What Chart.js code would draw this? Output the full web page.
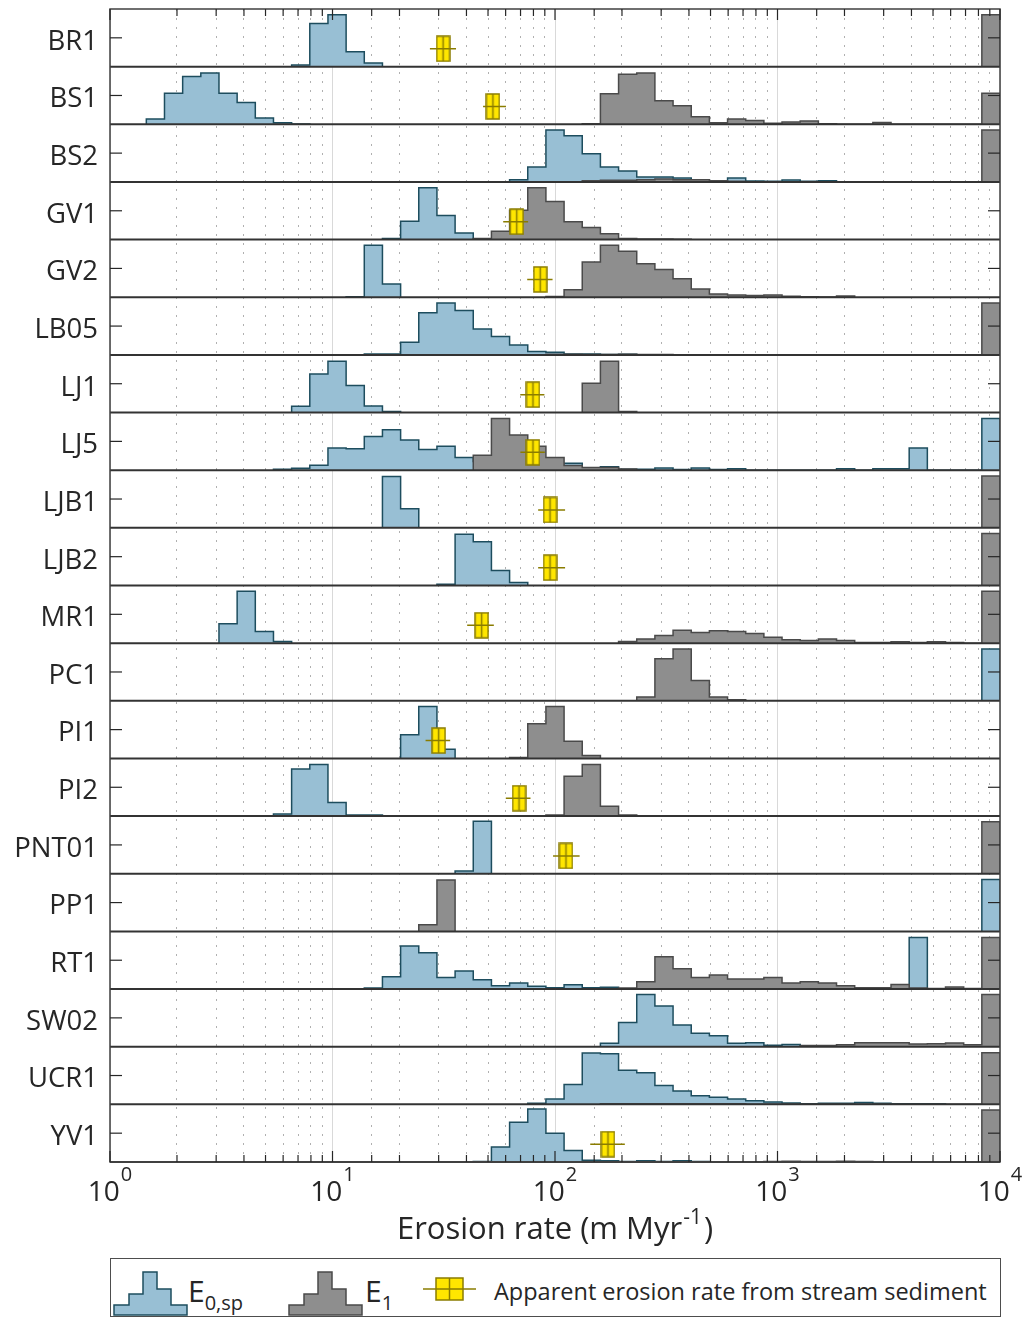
<!DOCTYPE html>
<html>
<head>
<meta charset="utf-8">
<script src="https://cdn.jsdelivr.net/npm/chart.js@4.4.1/dist/chart.umd.min.js"></script>
<style>
  html, body { margin: 0; padding: 0; background: #ffffff; }
  #wrap { position: relative; width: 1033px; height: 1318px; overflow: hidden; font-family: "Open Sans", sans-serif; color: #262626; }
  #chartBox { position: absolute; left: 0; top: 0; width: 1033px; height: 1250px; }
  #legend { position: absolute; left: 110px; top: 1258px; width: 891px; height: 59px; border: 1px solid #4d4d4d; box-sizing: border-box; background: #fff; }
  #legend svg { position: absolute; }
  .lt { position: absolute; white-space: nowrap; line-height: 1; }
  .lt sub { font-size: 20px; vertical-align: -8px; line-height: 1; }
</style>
</head>
<body>
<div id="wrap">
  <div id="chartBox"><canvas id="c"></canvas></div>
  <div id="legend">
    <svg style="left:2px;top:9px" width="78" height="48" viewBox="0 0 78 48">
      <path d="M1,47 L1,37 L16,37 L16,26 L30,26 L30,4 L44,4 L44,21 L58,21 L58,37 L74,37 L74,47 Z" fill="#98bfd4" stroke="#1d4d5e" stroke-width="1.5"/>
    </svg>
    <div class="lt" style="left:77px;top:17px;font-size:30px;">E<sub>0,sp</sub></div>
    <svg style="left:177px;top:9px" width="78" height="48" viewBox="0 0 78 48">
      <path d="M1,47 L1,37 L16,37 L16,26 L30,26 L30,4 L44,4 L44,21 L58,21 L58,37 L74,37 L74,47 Z" fill="#8e8e8e" stroke="#4a4a4a" stroke-width="1.5"/>
    </svg>
    <div class="lt" style="left:254px;top:17px;font-size:30px;">E<sub>1</sub></div>
    <svg style="left:311px;top:17px" width="56" height="26" viewBox="0 0 56 26">
      <rect x="14" y="2" width="27" height="22" fill="#ffe600" stroke="#8a7c00" stroke-width="1.5"/>
      <line x1="27.5" y1="2" x2="27.5" y2="24" stroke="#8a7c00" stroke-width="1.5"/>
      <line x1="1" y1="13" x2="54" y2="13" stroke="#8a7c00" stroke-width="1.5"/>
    </svg>
    <div class="lt" style="left:383px;top:21px;font-size:23.5px;">Apparent erosion rate from stream sediment</div>
  </div>
</div>
<script>
// ---------------- DATA ----------------
const samples = ['BR1','BS1','BS2','GV1','GV2','LB05','LJ1','LJ5','LJB1','LJB2','MR1','PC1','PI1','PI2','PNT01','PP1','RT1','SW02','UCR1','YV1'];

// histogram bins: 49 log-spaced bins between 10^0 and 10^4 (edges = logspace(0,4,50))
const BIN_COUNT = 49;
const LOG_MIN = 0, LOG_MAX = 4;

// E0,sp histograms: first bin index and relative frequencies (share of row height)
const e0Start = [10, 2, 22, 15, 13, 14, 10, 9, 15, 18, 6, 0, 16, 9, 19, 0, 14, 27, 23, 20];
const e0Counts = [
  [0.03, 0.75, 0.90, 0.26, 0.065],
  [0.094, 0.54, 0.83, 0.89, 0.54, 0.38, 0.11, 0.025, 0.005],
  [0.04, 0.26, 0.90, 0.80, 0.49, 0.26, 0.19, 0.087, 0.087, 0.07, 0.04, 0.017, 0.07, 0.017, 0.01, 0.035, 0.01, 0.02],
  [0.017, 0.32, 0.90, 0.42, 0.115],
  [0.01, 0.90, 0.23],
  [0.017, 0.017, 0.22, 0.73, 0.90, 0.77, 0.45, 0.32, 0.17, 0.058, 0.046, 0.017, 0.017, 0.005, 0.01],
  [0.11, 0.67, 0.89, 0.47, 0.115, 0.017],
  [0.018, 0.035, 0.088, 0.386, 0.37, 0.585, 0.70, 0.526, 0.357, 0.415, 0.22, 0.15, 0.13, 0.12, 0.12, 0.12, 0.12, 0.035, 0.058, 0.018, 0.018, 0.04, 0.01, 0.04, 0.01, 0.023, 0, 0, 0, 0, 0, 0.023, 0, 0.023, 0.023, 0.386],
  [0.89, 0.33],
  [0.02, 0.89, 0.76, 0.26, 0.05],
  [0.335, 0.90, 0.20, 0.03],
  [],
  [0.41, 0.90, 0.16],
  [0.035, 0.815, 0.896, 0.237, 0.017, 0.017],
  [0.048, 0.91],
  [],
  [0.017, 0.215, 0.745, 0.63, 0.20, 0.314, 0.163, 0.058, 0.105, 0.047, 0.023, 0.076, 0.023, 0.03, 0, 0, 0, 0, 0, 0, 0, 0, 0, 0, 0, 0, 0, 0, 0, 0, 0.895],
  [0.06, 0.42, 0.905, 0.705, 0.376, 0.235, 0.19, 0.06, 0.07, 0.023, 0.04, 0.01],
  [0.02, 0.093, 0.343, 0.89, 0.878, 0.593, 0.547, 0.326, 0.233, 0.151, 0.122, 0.093, 0.064, 0.04, 0.023, 0.01, 0.017, 0.017, 0.03, 0.017, 0.01, 0.01, 0.012],
  [0.01, 0.26, 0.69, 0.92, 0.50, 0.20, 0.03, 0.02, 0.01, 0.02, 0.01, 0.02, 0.01]
];
// E0,sp share in the last (>= ~8300 m/Myr) bin
const e0Last = [0, 0, 0, 0, 0, 0, 0, 0.895, 0, 0, 0, 0.90, 0, 0, 0, 0.90, 0, 0, 0, 0];

// E1 histograms
const e1Start = [0, 26, 26, 20, 24, 24, 26, 20, 0, 0, 28, 29, 22, 24, 0, 17, 28, 38, 27, 36];
const e1Counts = [
  [],
  [0.01, 0.53, 0.87, 0.89, 0.41, 0.32, 0.13, 0.025, 0.092, 0.064, 0.017, 0.04, 0.058, 0.01, 0, 0, 0.03],
  [0.02, 0.03, 0.03, 0.04, 0.05, 0.04, 0.04, 0.02, 0.01],
  [0.017, 0.145, 0.51, 0.90, 0.66, 0.31, 0.21, 0.10, 0.017, 0.01, 0.01, 0.005],
  [0.015, 0.13, 0.61, 0.90, 0.80, 0.58, 0.48, 0.32, 0.145, 0.058, 0.04, 0.03, 0.04, 0.017, 0.01, 0.005, 0.02],
  [0.01, 0.01, 0.005, 0.005, 0.01, 0.005, 0.005],
  [0.51, 0.89, 0.017],
  [0.26, 0.895, 0.61, 0.415, 0.22, 0.08, 0.047, 0.047, 0.02],
  [],
  [],
  [0.03, 0.07, 0.133, 0.225, 0.185, 0.214, 0.20, 0.168, 0.104, 0.058, 0.046, 0.07, 0.046, 0.012, 0.012, 0.023, 0.012, 0.023, 0.012],
  [0.064, 0.73, 0.90, 0.35, 0.064, 0.017],
  [0.017, 0.60, 0.90, 0.30, 0.05],
  [0.017, 0.69, 0.896, 0.173, 0.017],
  [],
  [0.116, 0.89],
  [0.017, 0.128, 0.56, 0.35, 0.20, 0.244, 0.174, 0.174, 0.20, 0.105, 0.128, 0.105, 0.058, 0.023, 0.023, 0.08, 0.02, 0.01, 0.035, 0.01],
  [0.02, 0.02, 0.035, 0.07, 0.07, 0.07, 0.047, 0.05, 0.065, 0.035],
  [0.01, 0.01, 0.012, 0.01, 0.01, 0.012, 0.01, 0.01],
  [0.01, 0.012, 0.01, 0.01, 0.012, 0.01]
];
const e1Last = [0.90, 0.54, 0.90, 0, 0, 0.90, 0, 0, 0.90, 0.90, 0.90, 0, 0, 0, 0.90, 0, 0.895, 0.905, 0.895, 0.90];

// Apparent erosion rate from stream sediment (m/Myr) with its range
const apparentRate = [31.4, 52.6, null, 67.3, 85.8, null, 79.6, 79.6, 95, 95, 46.8, null, 30.0, 68.9, 112, null, null, null, null, 173];
const apparentLow  = [27.4, 47.5, null, 58.5, 75.0, null, 69.8, 69.9, 84, 84, 40.3, null, 26.2, 60.1, 98, null, null, null, null, 144];
const apparentHigh = [35.9, 60.2, null, 75.7, 97.5, null, 89.6, 90.0, 111, 111, 53.1, null, 33.8, 77.6, 129, null, null, null, null, 206];

// x axis tick labels (10^n)
const xTickValues = [1, 10, 100, 1000, 10000];
const xTickBase = '10';
const xTickExp = ['0', '1', '2', '3', '4'];
const xTitleMain = 'Erosion rate (m Myr';
const xTitleSup = '-1';
const xTitleEnd = ')';

// ---------------- STYLE ----------------
const FONT = '"Open Sans", sans-serif';
const TEXT = '#262626';
const BLUE_FILL = '#98bfd4', BLUE_EDGE = '#1d4d5e';
const GRAY_FILL = '#8e8e8e', GRAY_EDGE = '#4a4a4a';
const YEL = '#ffe600', OLIVE = '#8a7c00';
const MARKER_Y = 0.31;

function binEdge(k) { return Math.pow(10, LOG_MIN + (LOG_MAX - LOG_MIN) * k / BIN_COUNT); }

function histPoints(start, counts, last) {
  const vals = new Array(BIN_COUNT).fill(0);
  counts.forEach((c, j) => { vals[start + j] = c; });
  if (last) vals[BIN_COUNT - 1] = last;
  let first = -1, lastK = -1;
  vals.forEach((v, k) => { if (v > 0) { if (first < 0) first = k; lastK = k; } });
  if (first < 0) return [];
  const pts = [{x: binEdge(first), y: 0}];
  for (let k = first; k <= lastK; k++) pts.push({x: binEdge(k), y: vals[k]});
  pts.push({x: binEdge(lastK + 1), y: 0});
  return pts;
}

function makeMarker() {
  const c = document.createElement('canvas');
  c.width = 15; c.height = 27;
  const g = c.getContext('2d');
  g.fillStyle = YEL; g.fillRect(1, 1, 13, 25);
  g.strokeStyle = OLIVE; g.lineWidth = 1.5;
  g.strokeRect(1, 1, 13, 25);
  g.beginPath(); g.moveTo(7.5, 1); g.lineTo(7.5, 26); g.stroke();
  return c;
}

function isDecade(v) { const l = Math.log10(v); return Math.abs(l - Math.round(l)) < 1e-6; }

function build() {
  const marker = makeMarker();
  const datasets = [];
  samples.forEach((s, i) => {
    const yid = 'y' + i;
    datasets.push({
      label: s + ' E0', data: histPoints(e0Start[i], e0Counts[i], e0Last[i]), yAxisID: yid,
      stepped: true, fill: 'origin', backgroundColor: BLUE_FILL, borderColor: BLUE_EDGE,
      borderWidth: 1.5, pointRadius: 0, order: 3
    });
    datasets.push({
      label: s + ' E1', data: histPoints(e1Start[i], e1Counts[i], e1Last[i]), yAxisID: yid,
      stepped: true, fill: 'origin', backgroundColor: GRAY_FILL, borderColor: GRAY_EDGE,
      borderWidth: 1.5, pointRadius: 0, order: 2
    });
    if (apparentRate[i] !== null) {
      datasets.push({
        label: s + ' apparent', data: [{x: apparentRate[i], y: MARKER_Y}], yAxisID: yid,
        showLine: false, pointStyle: marker, pointRadius: 10, order: 1
      });
      datasets.push({
        label: s + ' range', data: [{x: apparentLow[i], y: MARKER_Y}, {x: apparentHigh[i], y: MARKER_Y}], yAxisID: yid,
        borderColor: OLIVE, borderWidth: 1.5, pointRadius: 0, fill: false, order: 0
      });
    }
  });

  const scales = {
    x: {
      type: 'logarithmic', position: 'bottom', min: 1, max: 10000,
      ticks: { display: false, autoSkip: false },
      grid: { color: c => (c.tick && isDecade(c.tick.value)) ? '#d9d9d9' : '#b0b0b0', lineWidth: 1, drawTicks: false },
      border: { display: false, dash: c => (c.tick && isDecade(c.tick.value)) ? [] : [2, 7] },
      afterFit: s => { s.height = 88; s.paddingLeft = 0; s.paddingRight = 0; }
    }
  };
  for (let i = samples.length - 1; i >= 0; i--) {
    scales['y' + i] = {
      type: 'linear', position: 'left', stack: 'rows', stackWeight: 1, min: 0, max: 1,
      grid: { display: false, drawTicks: false }, border: { display: false },
      ticks: { font: { family: FONT, size: 27.5 }, color: TEXT, padding: 12, labelOffset: 4, callback: () => samples[i] },
      afterBuildTicks: s => { s.ticks = [{value: 0.5}]; },
      afterFit: s => { s.width = 110; s.paddingTop = 0; s.paddingBottom = 0; }
    };
  }

  const decor = {
    id: 'decor',
    afterDatasetsDraw(chart) {
      const {ctx, chartArea: a, scales: sc} = chart;
      const xs = sc.x;
      ctx.save();
      const line = (x1, y1, x2, y2) => { ctx.beginPath(); ctx.moveTo(x1, y1); ctx.lineTo(x2, y2); ctx.stroke(); };
      // row separators
      ctx.strokeStyle = '#333333'; ctx.lineWidth = 2;
      for (let i = 0; i < samples.length - 1; i++) {
        const y = sc['y' + i].bottom;
        line(a.left, y, a.right, y);
      }
      // frame
      ctx.lineWidth = 1.5; ctx.strokeStyle = '#404040';
      ctx.strokeRect(a.left, a.top, a.right - a.left, a.bottom - a.top);
      ctx.lineWidth = 2; line(a.left, a.bottom, a.right, a.bottom);
      // x ticks (inward, top and bottom)
      ctx.lineWidth = 1.2; ctx.strokeStyle = '#262626';
      xs.ticks.forEach(t => {
        const px = xs.getPixelForValue(t.value);
        const len = isDecade(t.value) ? 11 : 7;
        line(px, a.top, px, a.top + len);
        line(px, a.bottom, px, a.bottom - len);
      });
      // y ticks (inward, left and right)
      samples.forEach((s, i) => {
        const py = sc['y' + i].getPixelForValue(0.5);
        line(a.left, py, a.left + 12, py);
        line(a.right, py, a.right - 12, py);
      });
      // x tick labels with superscript exponents
      ctx.fillStyle = TEXT; ctx.textBaseline = 'alphabetic'; ctx.textAlign = 'left';
      xTickValues.forEach((v, j) => {
        const px = xs.getPixelForValue(v);
        ctx.font = '28px ' + FONT; const w1 = ctx.measureText(xTickBase).width;
        ctx.font = '20px ' + FONT; const w2 = ctx.measureText(xTickExp[j]).width;
        const x0 = px - (w1 + w2 + 1) / 2;
        ctx.font = '28px ' + FONT; ctx.fillText(xTickBase, x0, a.bottom + 39);
        ctx.font = '20px ' + FONT; ctx.fillText(xTickExp[j], x0 + w1 + 1, a.bottom + 19);
      });
      // x axis title
      ctx.font = '31px ' + FONT; const t1 = ctx.measureText(xTitleMain).width; const t3 = ctx.measureText(xTitleEnd).width;
      ctx.font = '21px ' + FONT; const t2 = ctx.measureText(xTitleSup).width;
      const cx = (a.left + a.right) / 2;
      let tx = cx - (t1 + t2 + t3 + 3) / 2;
      const ty = a.bottom + 77;
      ctx.font = '31px ' + FONT; ctx.fillText(xTitleMain, tx, ty);
      ctx.font = '21px ' + FONT; ctx.fillText(xTitleSup, tx + t1 + 1, ty - 15);
      ctx.font = '31px ' + FONT; ctx.fillText(xTitleEnd, tx + t1 + t2 + 3, ty);
      ctx.restore();
    }
  };

  new Chart(document.getElementById('c'), {
    type: 'line',
    data: { datasets },
    options: {
      responsive: true, maintainAspectRatio: false, animation: false, events: [],
      devicePixelRatio: 1,
      layout: { autoPadding: false, padding: { left: 0, right: 33, top: 9, bottom: 0 } },
      plugins: { legend: { display: false }, tooltip: { enabled: false } },
      elements: { line: { tension: 0 } },
      scales
    },
    plugins: [decor]
  });
}

const fontLoads = ['27.5px "Open Sans"', '20px "Open Sans"', '28px "Open Sans"'].map(f => document.fonts.load(f));
Promise.all(fontLoads).then(build, build);
</script>
</body>
</html>
